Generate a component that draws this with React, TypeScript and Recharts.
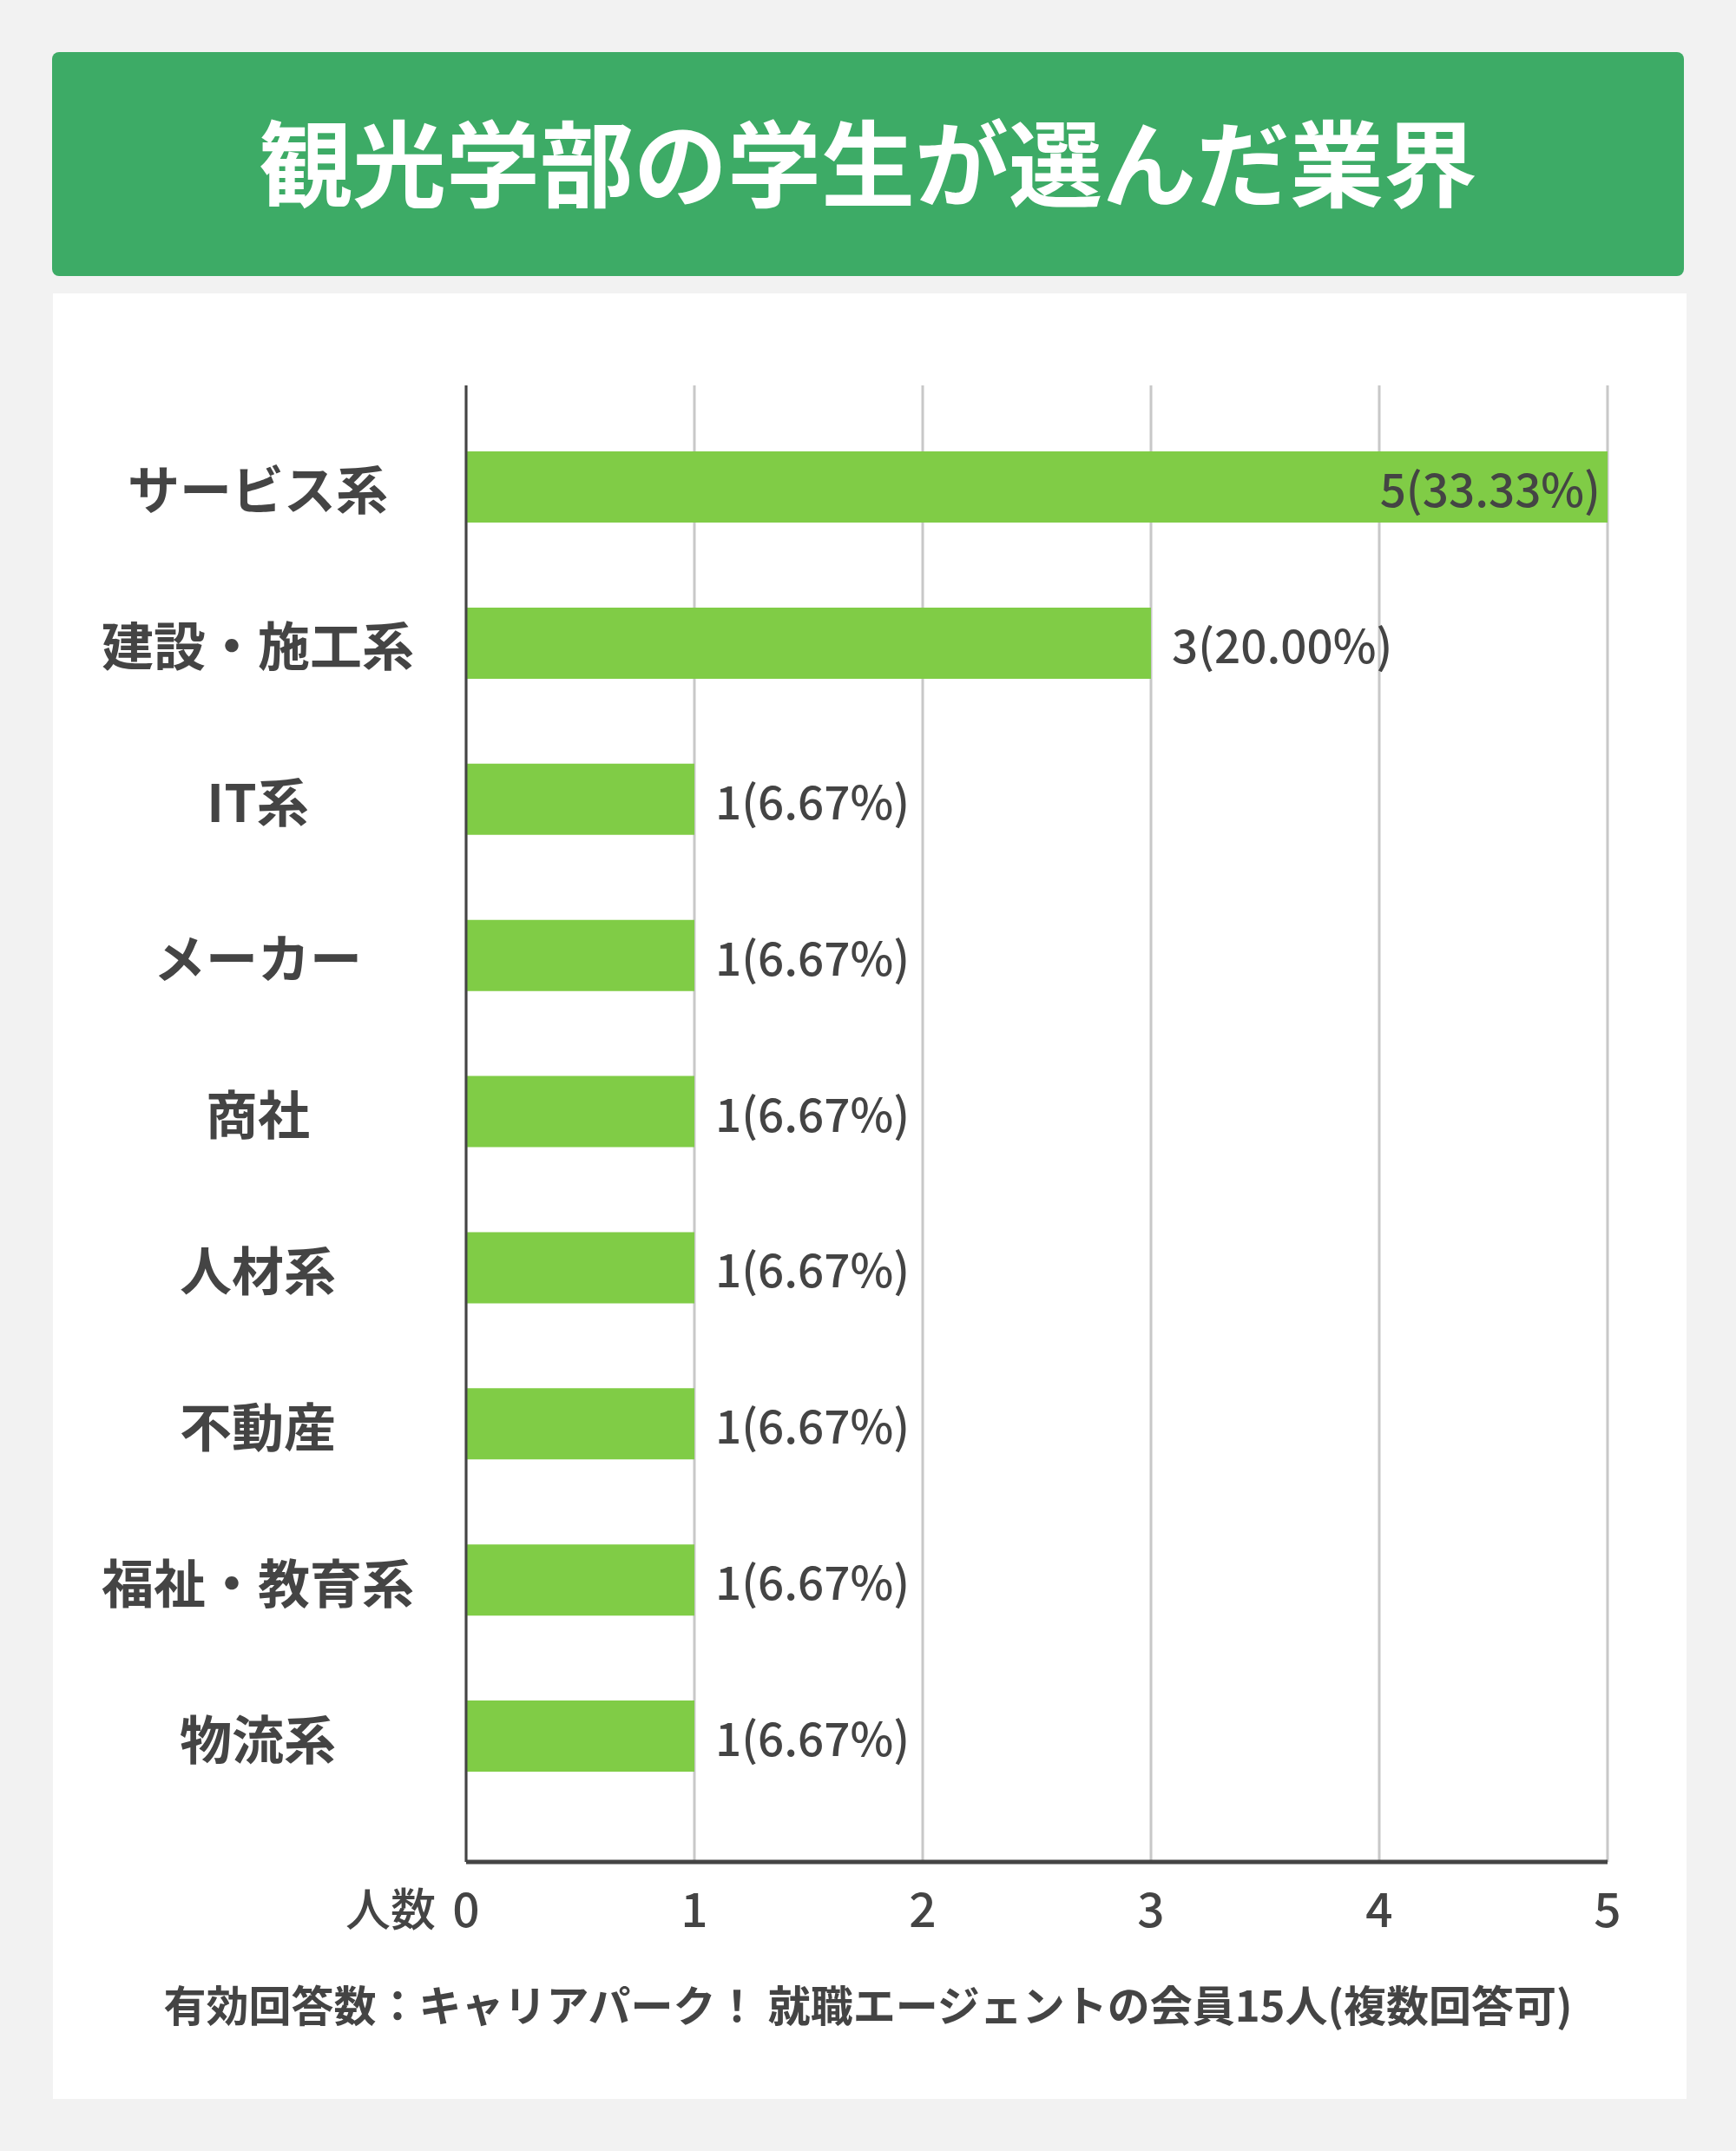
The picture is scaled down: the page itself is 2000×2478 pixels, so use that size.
import { BarChart, Bar, XAxis, YAxis, CartesianGrid, LabelList } from "recharts";

const categories = [
  "サービス系",
  "建設・施工系",
  "IT系",
  "メーカー",
  "商社",
  "人材系",
  "不動産",
  "福祉・教育系",
  "物流系",
];
const counts = [5, 3, 1, 1, 1, 1, 1, 1, 1];
const percents = ["33.33%", "20.00%", "6.67%", "6.67%", "6.67%", "6.67%", "6.67%", "6.67%", "6.67%"];
const xTicks = [0, 1, 2, 3, 4, 5];

const data = categories.map((name, i) => ({
  name,
  count: counts[i],
  label: `${counts[i]}(${percents[i]})`,
}));

const FONT = '"Noto Sans CJK JP", "Noto Sans", sans-serif';
const TEXT = "#444444";
const X_MAX = 5;

const CategoryTick = (props: any) => {
  const { y, payload } = props;
  return (
    <text
      x={297}
      y={y}
      textAnchor="middle"
      dominantBaseline="central"
      fontFamily={FONT}
      fontSize={60}
      fontWeight={700}
      fill={TEXT}
    >
      {payload.value}
    </text>
  );
};

const CountTick = (props: any) => {
  const { x, y, payload } = props;
  return (
    <g>
      {payload.value === 0 && (
        <text
          x={450}
          y={y + 43}
          textAnchor="middle"
          dominantBaseline="central"
          fontFamily={FONT}
          fontSize={52}
          fontWeight={500}
          fill={TEXT}
        >
          人数
        </text>
      )}
      <text
        x={x}
        y={y + 43}
        textAnchor="middle"
        dominantBaseline="central"
        fontFamily={FONT}
        fontSize={55}
        fontWeight={500}
        fill={TEXT}
      >
        {payload.value}
      </text>
    </g>
  );
};

const ValueLabel = (props: any) => {
  const { x, y, width, height, value, index } = props;
  const inside = counts[index] >= X_MAX;
  return (
    <text
      x={inside ? x + width - 8 : x + width + 24}
      y={y + height / 2}
      textAnchor={inside ? "end" : "start"}
      dominantBaseline="central"
      fontFamily={FONT}
      fontSize={53}
      fontWeight={500}
      fill={TEXT}
    >
      {value}
    </text>
  );
};

export default function App() {
  return (
    <div
      style={{
        position: "absolute",
        left: 0,
        top: 0,
        width: 2000,
        height: 2478,
        background: "#f2f2f2",
        fontFamily: FONT,
      }}
    >
      <div
        style={{
          position: "absolute",
          left: 60,
          top: 60,
          width: 1880,
          height: 258,
          background: "#3dab66",
          borderRadius: 8,
          display: "flex",
          alignItems: "center",
          justifyContent: "center",
          color: "#ffffff",
          fontSize: 108,
          fontWeight: 700,
          lineHeight: 1,
          paddingBottom: 12,
          boxSizing: "border-box",
        }}
      >
        観光学部の学生が選んだ業界
      </div>
      <div
        style={{
          position: "absolute",
          left: 61,
          top: 338,
          width: 1882,
          height: 2080,
          background: "#ffffff",
        }}
      />
      <div style={{ position: "absolute", left: 0, top: 0 }}>
        <BarChart
          width={2000}
          height={2478}
          data={data}
          layout="vertical"
          margin={{ top: 444, right: 148, bottom: 233, left: 0 }}
        >
          <CartesianGrid horizontal={false} stroke="#c8c8c8" strokeWidth={3} />
          <XAxis
            type="number"
            domain={[0, X_MAX]}
            ticks={xTicks}
            height={100}
            tickLine={false}
            axisLine={{ stroke: TEXT, strokeWidth: 5 }}
            tick={<CountTick />}
            interval={0}
          />
          <YAxis
            type="category"
            dataKey="name"
            width={537}
            padding={{ top: 27, bottom: 55 }}
            tickLine={false}
            axisLine={{ stroke: TEXT, strokeWidth: 3 }}
            tick={<CategoryTick />}
            interval={0}
          />
          <Bar dataKey="count" fill="#80cc46" barSize={82} isAnimationActive={false}>
            <LabelList dataKey="label" content={<ValueLabel />} />
          </Bar>
        </BarChart>
      </div>
      <div
        style={{
          position: "absolute",
          left: 0,
          top: 2307,
          width: 2000,
          textAlign: "center",
          transform: "translateY(-50%)",
          color: TEXT,
          fontSize: 49,
          fontWeight: 700,
          lineHeight: 1,
        }}
      >
        有効回答数：キャリアパーク！ 就職エージェントの会員15人(複数回答可)
      </div>
    </div>
  );
}
